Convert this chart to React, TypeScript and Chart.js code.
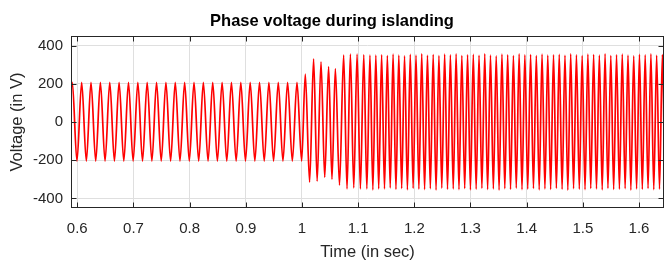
import React, { useEffect, useRef } from "react";
import { Chart, registerables } from "chart.js";

Chart.register(...registerables);

const TITLE = "Phase voltage during islanding";
const X_TITLE = "Time (in sec)";
const Y_TITLE = "Voltage (in V)";

const xTicks = [0.6, 0.7, 0.8, 0.9, 1, 1.1, 1.2, 1.3, 1.4, 1.5, 1.6];
const yTicks = [-400, -200, 0, 200, 400];

// grid-connected part: extrema (trough / peak)
const preTimes = [
  0.5828, 0.5911, 0.5994, 0.6078, 0.6161, 0.6244, 0.6328, 0.6411, 0.6494, 0.6578,
  0.6661, 0.6744, 0.6828, 0.6911, 0.6994, 0.7078, 0.7161, 0.7244, 0.7328, 0.7411,
  0.7494, 0.7578, 0.7661, 0.7744, 0.7828, 0.7911, 0.7994, 0.8078, 0.8161, 0.8244,
  0.8328, 0.8411, 0.8494, 0.8578, 0.8661, 0.8744, 0.8828, 0.8911, 0.8994, 0.9078,
  0.9161, 0.9244, 0.9328, 0.9411, 0.9494, 0.9578, 0.9661, 0.9744, 0.9828, 0.9911,
  0.9994,
];
const preVolts = [
  -205, 207, -205, 207, -205, 207, -205, 207, -205, 207,
  -205, 207, -205, 207, -205, 207, -205, 207, -205, 207,
  -205, 207, -205, 207, -205, 207, -205, 207, -205, 207,
  -205, 207, -205, 207, -205, 207, -205, 207, -205, 207,
  -205, 207, -205, 207, -205, 207, -205, 207, -205, 207,
  -205,
];

// transient right after islanding
const transTimes = [
  1.0059, 1.0136, 1.0207, 1.027, 1.0339, 1.0405, 1.0474, 1.0534, 1.0594, 1.0668,
  1.0742, 1.0802, 1.0862, 1.0922, 1.0981, 1.104, 1.11, 1.1155, 1.121, 1.1262,
  1.1315, 1.1366,
];
const transVolts = [
  250, -315, 330, -310, 315, -290, 290, -300, 280, -330,
  350, -350, 355, -345, 355, -350, 352, -350, 350, -355,
  350, -350,
];

// islanded part
const islTimes = [
  1.1418, 1.1469, 1.152, 1.1571, 1.1622, 1.1673, 1.1724, 1.1775, 1.1826, 1.1877,
  1.1928, 1.1979, 1.203, 1.2081, 1.2132, 1.2183, 1.2234, 1.2285, 1.2336, 1.2387,
  1.2438, 1.2489, 1.254, 1.2591, 1.2642, 1.2693, 1.2744, 1.2795, 1.2846, 1.2897,
  1.2948, 1.2999, 1.305, 1.3101, 1.3152, 1.3203, 1.3254, 1.3305, 1.3356, 1.3407,
  1.3458, 1.3509, 1.356, 1.3611, 1.3662, 1.3713, 1.3764, 1.3815, 1.3866, 1.3917,
  1.3968, 1.4019, 1.407, 1.4121, 1.4172, 1.4223, 1.4274, 1.4325, 1.4376, 1.4427,
  1.4478, 1.4529, 1.458, 1.4631, 1.4682, 1.4733, 1.4784, 1.4835, 1.4886, 1.4937,
  1.4988, 1.5039, 1.509, 1.5141, 1.5192, 1.5243, 1.5294, 1.5345, 1.5396, 1.5447,
  1.5498, 1.5549, 1.56, 1.5651, 1.5702, 1.5753, 1.5804, 1.5855, 1.5906, 1.5957,
  1.6008, 1.6059, 1.611, 1.6161, 1.6212, 1.6263, 1.6314, 1.6365, 1.6416, 1.6467,
  1.6518,
];
const islVolts = [
  352, -350, 348, -345, 355, -352, 350, -348, 346, -355,
  354, -347, 350, -351, 357, -353, 349, -349, 353, -356,
  347, -346, 355, -352, 351, -350, 356, -354, 348, -348,
  352, -355, 354, -351, 349, -347, 357, -353, 350, -350,
  346, -356, 355, -349, 352, -352, 348, -346, 356, -354,
  351, -351, 353, -348, 347, -355, 355, -350, 350, -353,
  352, -347, 354, -352, 349, -356, 356, -349, 351, -351,
  347, -354, 355, -348, 353, -350, 350, -355, 357, -347,
  348, -353, 352, -351, 355, -349, 350, -356, 346, -350,
  354, -352, 351, -348, 356, -354, 349, -351, 353, -350,
  352,
];

const X_MIN = 0.5888;
const X_MAX = 1.6445;
const Y_MIN = -450;
const Y_MAX = 450;

const FONT = "'Liberation Sans', Arial, Helvetica, sans-serif";
const INK = "#262626";

function toPoints(ts: number[], vs: number[]) {
  const n = Math.min(ts.length, vs.length);
  const out: { x: number; y: number }[] = [];
  for (let i = 0; i < n; i++) out.push({ x: ts[i], y: vs[i] });
  return out;
}

const boxPlugin = {
  id: "matlabBox",
  afterDraw(chart: any) {
    const { ctx, chartArea } = chart;
    const { left, right, top, bottom } = chartArea;
    const xs = chart.scales.x;
    const ys = chart.scales.y;
    ctx.save();
    ctx.strokeStyle = INK;
    ctx.lineWidth = 1;
    const L = Math.round(left) + 0.5;
    const R = Math.round(right) - 0.5;
    const T = Math.round(top) + 0.5;
    const B = Math.round(bottom) - 0.5;
    ctx.strokeRect(L, T, R - L, B - T);
    const tl = 5;
    ctx.beginPath();
    for (const v of xTicks) {
      const px = Math.round(xs.getPixelForValue(v)) + 0.5;
      ctx.moveTo(px, B);
      ctx.lineTo(px, B - tl);
      ctx.moveTo(px, T);
      ctx.lineTo(px, T + tl);
    }
    for (const v of yTicks) {
      const py = Math.round(ys.getPixelForValue(v)) + 0.5;
      ctx.moveTo(L, py);
      ctx.lineTo(L + tl, py);
      ctx.moveTo(R, py);
      ctx.lineTo(R - tl, py);
    }
    ctx.stroke();
    ctx.restore();
  },
};

export default function App() {
  const ref = useRef<HTMLCanvasElement | null>(null);
  useEffect(() => {
    if (!ref.current) return;
    const data = [
      ...toPoints(preTimes, preVolts),
      ...toPoints(transTimes, transVolts),
      ...toPoints(islTimes, islVolts),
    ];
    const chart = new Chart(ref.current, {
      type: "line",
      data: {
        datasets: [
          {
            data,
            borderColor: "#ff0000",
            borderWidth: 1.7,
            pointRadius: 0,
            cubicInterpolationMode: "monotone",
            fill: false,
          },
        ],
      },
      options: {
        animation: false,
        responsive: false,
        events: [],
        layout: { padding: { left: 0, right: 1, top: 0, bottom: 0 } },
        plugins: {
          legend: { display: false },
          tooltip: { enabled: false },
          title: {
            display: true,
            text: TITLE,
            color: "#000000",
            font: { family: FONT, size: 16.5, weight: "bold", lineHeight: 1.2 },
            padding: { top: 12, bottom: 4.2 },
          },
        },
        scales: {
          x: {
            type: "linear",
            min: X_MIN,
            max: X_MAX,
            afterBuildTicks: (s: any) => {
              s.ticks = xTicks.map((value) => ({ value }));
            },
            afterFit: (s: any) => {
              s.height = 53;
            },
            ticks: {
              color: INK,
              font: { family: FONT, size: 15 },
              padding: 12,
              maxRotation: 0,
              autoSkip: false,
              callback: (v: any) => String(v),
            },
            grid: { color: "#dfdfdf", drawTicks: false, lineWidth: 1 },
            border: { display: false },
            title: {
              display: true,
              text: X_TITLE,
              color: INK,
              font: { family: FONT, size: 16.5, lineHeight: 1.0 },
              padding: { top: 0, bottom: 0 },
            },
          },
          y: {
            type: "linear",
            min: Y_MIN,
            max: Y_MAX,
            afterBuildTicks: (s: any) => {
              s.ticks = yTicks.map((value) => ({ value }));
            },
            afterFit: (s: any) => {
              s.width = 71;
            },
            ticks: {
              color: INK,
              font: { family: FONT, size: 15 },
              padding: 8,
              autoSkip: false,
              callback: (v: any) => String(v),
            },
            grid: { color: "#dfdfdf", drawTicks: false, lineWidth: 1 },
            border: { display: false },
            title: {
              display: true,
              text: Y_TITLE,
              color: INK,
              font: { family: FONT, size: 16.5, lineHeight: 1.2 },
              padding: { top: 8, bottom: 0 },
            },
          },
        },
      },
      plugins: [boxPlugin],
    });
    return () => chart.destroy();
  }, []);
  return (
    <div style={{ position: "fixed", left: 0, top: 0, width: 665, height: 261, background: "#fff" }}>
      <canvas ref={ref} width={665} height={261} style={{ display: "block" }} />
    </div>
  );
}
